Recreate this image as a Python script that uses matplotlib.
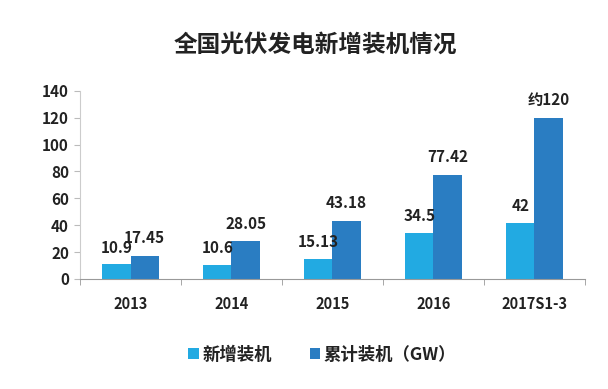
import matplotlib
matplotlib.use("Agg")
import matplotlib.pyplot as plt
import numpy as np

plt.rcParams['font.family'] = ['Noto Sans CJK SC', 'DejaVu Sans']

categories = ['2013', '2014', '2015', '2016', '2017S1-3']
new_install = [10.9, 10.6, 15.13, 34.5, 42]
cumulative = [17.45, 28.05, 43.18, 77.42, 120]
new_labels = ['10.9', '10.6', '15.13', '34.5', '42']
cum_labels = ['17.45', '28.05', '43.18', '77.42', '约120']
series_names = ['新增装机', '累计装机（GW）']
title = '全国光伏发电新增装机情况'

c_light = '#22AAE2'
c_dark = '#2A7DC2'
txt = '#222222'

fig = plt.figure(figsize=(6.08, 3.89), dpi=100)
ax = fig.add_axes([0.1316, 0.2828, 0.8304, 0.484])

x = np.arange(len(categories))
w = 0.28
b1 = ax.bar(x - w/2, new_install, w, color=c_light, label=series_names[0])
b2 = ax.bar(x + w/2, cumulative, w, color=c_dark, label=series_names[1])

for xi, v, s in zip(x, new_install, new_labels):
    ax.annotate(s, (xi - w/2, v), xytext=(0, 6), textcoords='offset points',
                ha='center', va='bottom', fontsize=11, fontweight='bold', color=txt)
for xi, v, s in zip(x, cumulative, cum_labels):
    ax.annotate(s, (xi + w/2, v), xytext=(0, 7), textcoords='offset points',
                ha='center', va='bottom', fontsize=11, fontweight='bold', color=txt)

ax.set_xlim(-0.5, len(categories) - 0.5)
ax.set_ylim(0, 140)
ax.set_yticks(np.arange(0, 141, 20))
ax.set_xticks(x)
ax.set_xticklabels(categories, fontsize=10.5, fontweight='bold', color=txt)
ax.set_xticks(np.arange(-0.5, len(categories), 1), minor=True)
ax.tick_params(axis='x', which='major', length=0, pad=12)
ax.tick_params(axis='x', which='minor', length=4, color='#999999', direction='out')
ax.tick_params(axis='y', length=4, color='#bbbbbb', labelsize=11, labelcolor=txt, pad=4)
for lab in ax.get_yticklabels():
    lab.set_fontweight('bold')

for sp in ['top', 'right']:
    ax.spines[sp].set_visible(False)
ax.spines['left'].set_color('#cccccc')
ax.spines['bottom'].set_color('#999999')

fig.text(0.518, 0.885, title, ha='center', va='center', fontsize=17, fontweight='bold', color=txt)

leg = fig.legend(handles=[b1, b2], labels=series_names, loc='center', bbox_to_anchor=(0.53, 0.088),
                 ncol=2, frameon=False, handlelength=0.6, handleheight=0.6, handletextpad=0.2,
                 columnspacing=2.2, prop={'weight': 'bold', 'size': 12.5})
for t in leg.get_texts():
    t.set_color(txt)

fig.savefig('out.png', dpi=100, facecolor='white')
